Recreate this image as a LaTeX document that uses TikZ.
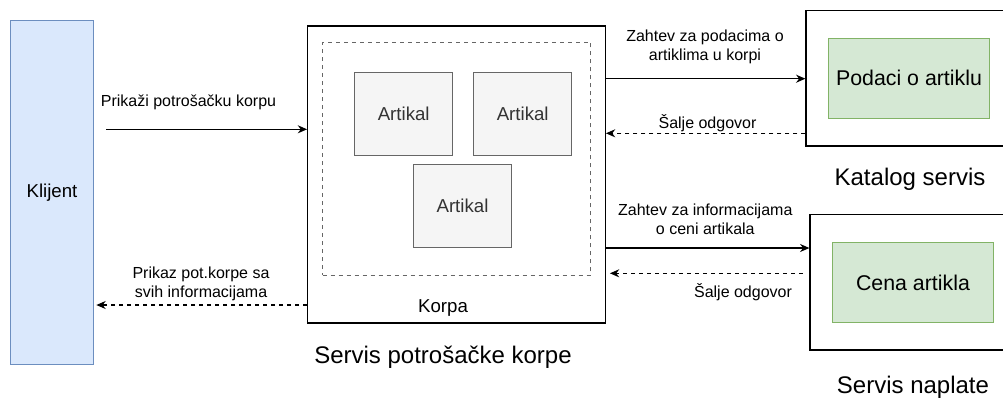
\documentclass[tikz,border=0pt]{standalone}
\usepackage{fontspec}
\setmainfont{Liberation Sans}
\usetikzlibrary{arrows.meta}
\definecolor{klijentFill}{HTML}{DAE8FC}
\definecolor{klijentLine}{HTML}{6C8EBF}
\definecolor{zelenaFill}{HTML}{D5E8D4}
\definecolor{zelenaLine}{HTML}{82B366}
\definecolor{sivaFill}{HTML}{F5F5F5}
\definecolor{sivaLine}{HTML}{666666}

\begin{document}
\begin{tikzpicture}[x=0.75pt,y=-0.75pt,>={Stealth[length=7pt,width=6pt]},
		box/.style={draw,line width=0.9pt,rectangle,inner sep=0pt},
		artikal/.style={box,fill=sivaFill,draw=sivaLine,text=black!80,minimum width=73.5pt,minimum height=62.3pt,font=\fontsize{14}{16}\selectfont},
		podatak/.style={box,fill=zelenaFill,draw=zelenaLine,minimum width=120.5pt,minimum height=60pt,font=\fontsize{16}{19}\selectfont},
		poruka/.style={align=center,font=\fontsize{12}{14.3}\selectfont,inner sep=0pt},
		naslov/.style={font=\fontsize{18}{21}\selectfont,inner sep=0pt},
		odgovor/.style={->,line width=0.9pt,dash pattern=on 3pt off 3pt}]
			\useasboundingbox (0,0) rectangle (1003,397);
			% klijent
			\node[box,fill=klijentFill,draw=klijentLine,minimum width=62pt,minimum height=257.7pt,font=\fontsize{14}{16}\selectfont] (klijent) at (52,192.5) {Klijent};
			% servis potrosacke korpe
			\node[box,minimum width=223.2pt,minimum height=222.8pt] (korpa) at (456.5,174.5) {};
			\node[box,draw=sivaLine,line width=0.7pt,dash pattern=on 3pt off 3pt,minimum width=201.2pt,minimum height=174.5pt] (sadrzaj) at (456.8,158.7) {};
			\node[artikal] (art1) at (403.7,114.2) {Artikal};
			\node[artikal] (art2) at (522.7,114.2) {Artikal};
			\node[artikal] (art3) at (462.5,206.3) {Artikal};
			\node[font=\fontsize{14}{16}\selectfont,inner sep=0pt] (korpaText) at (443,308) {Korpa};
			\node[naslov] (korpaNaslov) at (443,357) {Servis potrošačke korpe};
			% katalog i naplata
			\node[box,minimum width=150pt,minimum height=101.8pt] (katalog) at (906,78.2) {};
			\node[podatak] (podaci) at (909,78.3) {Podaci o artiklu};
			\node[naslov] (katalogNaslov) at (910,179) {Katalog servis};
			\node[box,minimum width=147pt,minimum height=101.8pt] (naplata) at (908,282.2) {};
			\node[podatak] (cena) at (913,282.5) {Cena artikla};
			\node[naslov] (naplataNaslov) at (913,387) {Servis naplate};
			% poruke
			\coordinate (prikaziStart) at (106,129.3);
			\draw[->,line width=0.9pt] (prikaziStart) -- (korpa.west |- prikaziStart);
			\node[poruka] (prikazi) at (188.5,102) {Prikaži potrošačku korpu};
			\draw[odgovor,shorten >=1.8pt] (korpa.west |- 0,305) -- (klijent.east |- 0,305);
			\node[poruka] (prikaz) at (201,284) {Prikaz pot.korpe sa\\svih informacijama};
			\draw[->,line width=0.9pt] (korpa.east |- 0,78.7) -- (katalog.west |- 0,78.7);
			\node[poruka] (zahtevPodaci) at (705,47) {Zahtev za podacima o\\artiklima u korpi};
			\draw[odgovor] (katalog.west |- 0,133.3) -- (korpa.east |- 0,133.3);
			\node[poruka] (odgovor1) at (707.5,123) {Šalje odgovor};
			\draw[->,line width=0.9pt] (korpa.east |- 0,248) -- (naplata.west |- 0,248);
			\node[poruka] (zahtevCena) at (705.3,219.3) {Zahtev za informacijama\\o ceni artikala};
			\draw[odgovor,shorten <=5pt,shorten >=3pt] (naplata.west |- 0,273.3) -- (korpa.east |- 0,273.3);
			\node[poruka] (odgovor2) at (743,292) {Šalje odgovor};
		\end{tikzpicture}
\end{document}
